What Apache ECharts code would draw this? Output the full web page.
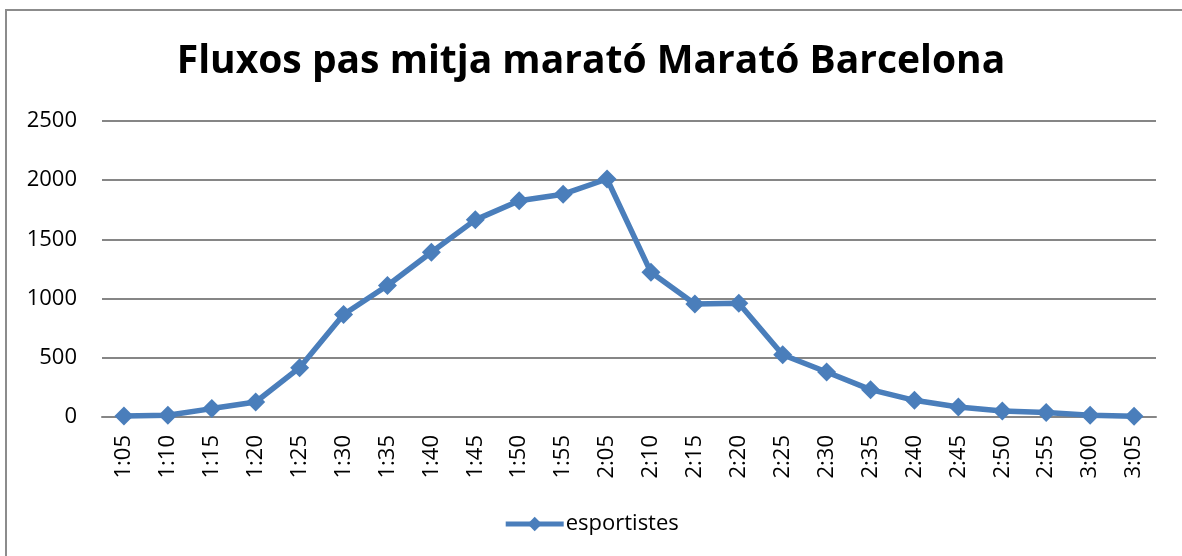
<!DOCTYPE html>
<html>
<head>
<meta charset="utf-8">
<script src="https://cdn.jsdelivr.net/npm/echarts@6/dist/echarts.min.js"></script>
<style>
html,body{margin:0;padding:0;background:#fff;}
#chart{width:1182px;height:556px;}
</style>
</head>
<body>
<div id="chart"></div>
<script>
const categories = ['1:05','1:10','1:15','1:20','1:25','1:30','1:35','1:40','1:45','1:50','1:55','2:05','2:10','2:15','2:20','2:25','2:30','2:35','2:40','2:45','2:50','2:55','3:00','3:05'];
const esportistes = [8, 14, 71, 127, 417, 866, 1111, 1392, 1665, 1826, 1882, 2010, 1222, 955, 961, 526, 380, 231, 141, 85, 51, 37, 14, 6];
const yTicks = [0, 500, 1000, 1500, 2000, 2500];

const FONT = '"Open Sans", "Noto Sans", sans-serif';
const chart = echarts.init(document.getElementById('chart'), null, {renderer: 'canvas'});
chart.setOption({
  animation: false,
  backgroundColor: '#ffffff',
  graphic: [{
    type: 'polyline',
    shape: {points: [[6, 600], [6, 10], [1200, 10]]},
    style: {stroke: '#8c8c8c', lineWidth: 2, fill: null},
    silent: true
  }],
  title: {
    text: 'Fluxos pas mitja marató Marató Barcelona',
    left: 'center',
    top: 37,
    textStyle: {fontFamily: FONT, fontWeight: 'bold', fontSize: 39, color: '#000'}
  },
  grid: {left: 102, right: 26, top: 121, bottom: 139, containLabel: false},
  legend: {
    bottom: 16,
    left: 'center',
    itemWidth: 58,
    itemHeight: 18,
    itemGap: 10,
    lineStyle: {width: 5, color: '#4A7EBB'},
    textStyle: {fontFamily: FONT, fontSize: 22, color: '#000', padding: [0, 0, 0, -3]},
    data: ['esportistes']
  },
  xAxis: {
    type: 'category',
    data: categories,
    boundaryGap: true,
    axisLine: {lineStyle: {color: '#868686', width: 2}},
    axisTick: {show: false},
    axisLabel: {rotate: 90, margin: 18, fontFamily: FONT, fontSize: 22, color: '#000'}
  },
  yAxis: {
    type: 'value',
    min: yTicks[0],
    max: yTicks[yTicks.length - 1],
    interval: yTicks[1] - yTicks[0],
    axisLine: {show: false},
    axisTick: {show: false},
    splitLine: {lineStyle: {color: '#868686', width: 2}},
    axisLabel: {margin: 25, fontFamily: FONT, fontSize: 22, color: '#000', formatter: function (v) { return String(v); }}
  },
  series: [{
    name: 'esportistes',
    type: 'line',
    data: esportistes,
    symbol: 'diamond',
    symbolSize: 19,
    lineStyle: {color: '#4A7EBB', width: 5.5},
    itemStyle: {color: '#4A7EBB'},
    z: 3
  }]
});
</script>
</body>
</html>
